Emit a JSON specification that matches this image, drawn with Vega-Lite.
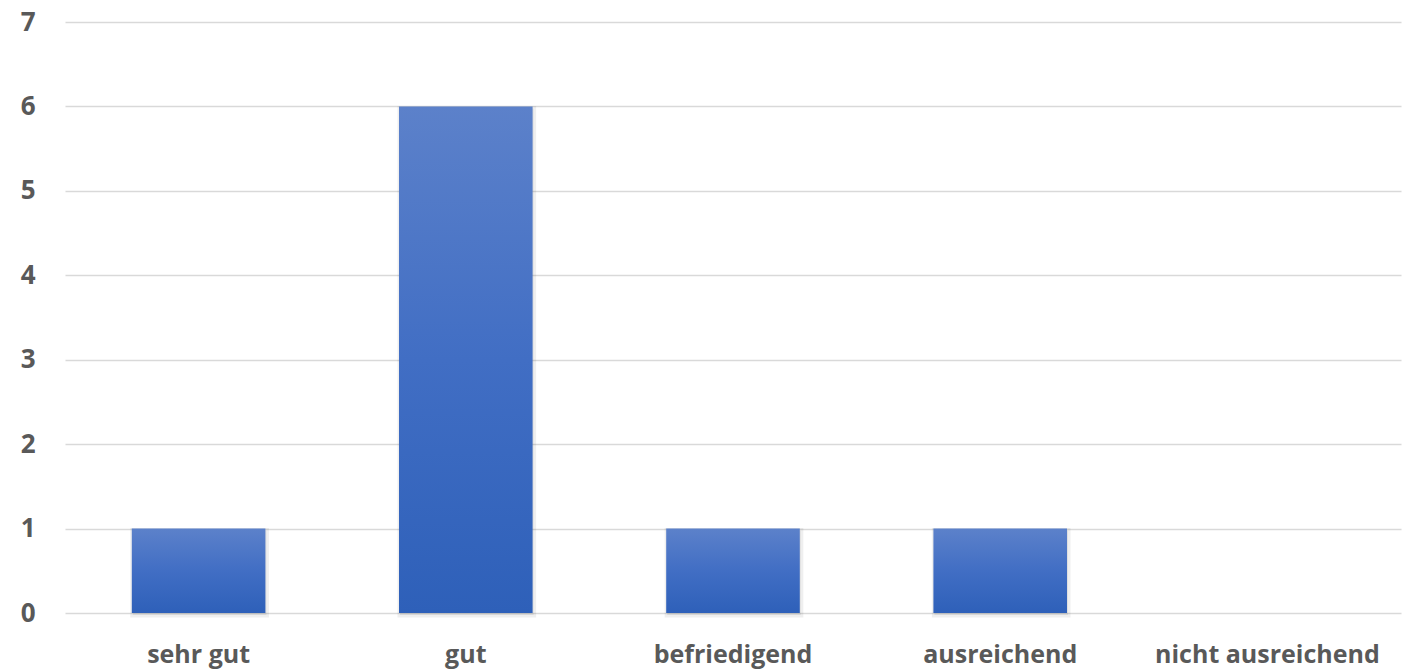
{
  "$schema": "https://vega.github.io/schema/vega-lite/v6.json",
  "autosize": "none",
  "width": 1336,
  "height": 591,
  "padding": {"left": 65, "top": 22, "right": 8, "bottom": 58},
  "background": "white",
  "config": {"view": {"stroke": null}},
  "data": {
    "values": [
      {"Note": "sehr gut", "Anzahl": 1},
      {"Note": "gut", "Anzahl": 6},
      {"Note": "befriedigend", "Anzahl": 1},
      {"Note": "ausreichend", "Anzahl": 1},
      {"Note": "nicht ausreichend", "Anzahl": 0}
    ]
  },
  "encoding": {
    "x": {
      "field": "Note",
      "type": "nominal",
      "sort": null,
      "title": null,
      "scale": {"paddingInner": 0.5, "paddingOuter": 0.25},
      "axis": {
        "labelAngle": 0,
        "labelFont": "Open Sans",
        "labelFontWeight": "bold",
        "labelFontSize": 25,
        "labelColor": "#595959",
        "labelPadding": 29,
        "labelLimit": 0,
        "ticks": false,
        "domain": false,
        "grid": false
      }
    },
    "y": {
      "field": "Anzahl",
      "type": "quantitative",
      "title": null,
      "scale": {"domain": [0, 7]},
      "axis": {
        "values": [0, 1, 2, 3, 4, 5, 6, 7],
        "format": "d",
        "labelFont": "Open Sans",
        "labelFontWeight": "bold",
        "labelFontSize": 26,
        "labelColor": "#595959",
        "labelPadding": 30,
        "ticks": false,
        "domain": false,
        "grid": true,
        "gridColor": "#d9d9d9",
        "gridWidth": 1.5
      }
    }
  },
  "layer": [
    {
      "transform": [{"filter": "datum.Anzahl > 0"}],
      "mark": {
        "type": "bar",
        "color": "#000000",
        "opacity": 0.12,
        "stroke": "#000000",
        "strokeWidth": 5,
        "strokeOpacity": 0.5,
        "xOffset": 1,
        "yOffset": 2
      }
    },
    {
      "mark": {
        "type": "bar",
        "color": {
          "gradient": "linear",
          "x1": 0, "y1": 0, "x2": 0, "y2": 1,
          "stops": [
            {"offset": 0, "color": "#5c81ca"},
            {"offset": 0.5, "color": "#416ec4"},
            {"offset": 1, "color": "#2e60b9"}
          ]
        }
      }
    }
  ]
}
